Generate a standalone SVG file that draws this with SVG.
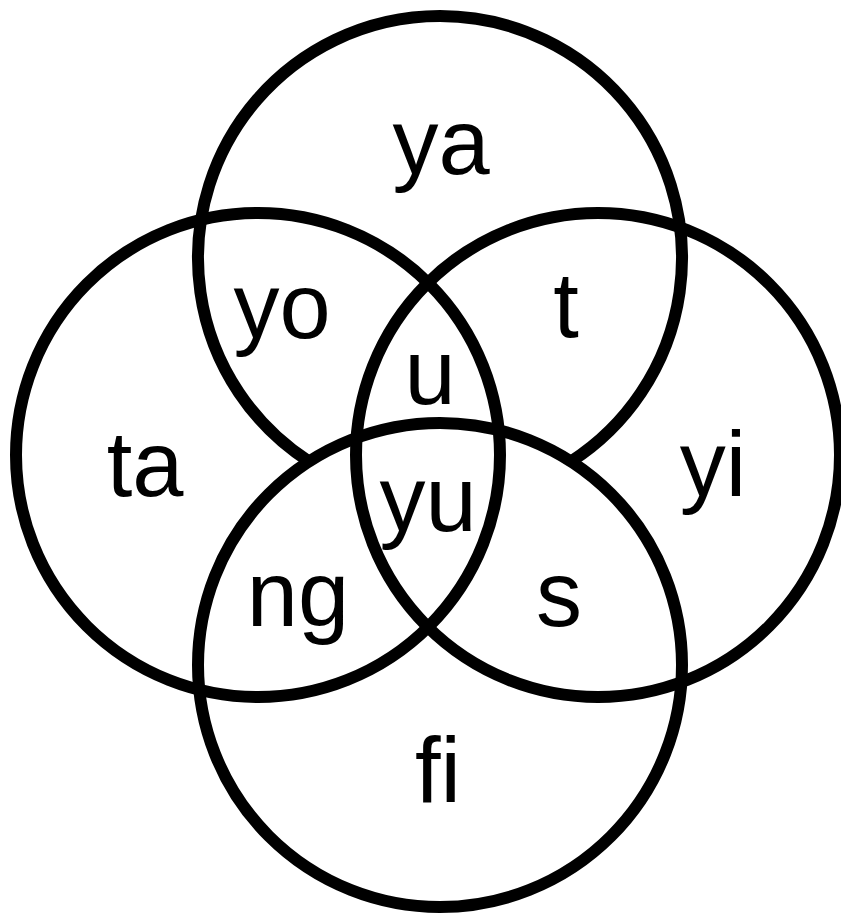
<svg xmlns="http://www.w3.org/2000/svg" width="841" height="918" viewBox="0 0 841 918">
<style>
.c{fill:none;stroke:#000;stroke-width:12}
.t{font-family:"Liberation Sans",Arial,sans-serif;font-size:92px;fill:#000;text-anchor:middle;font-variant-ligatures:none}
</style>
<rect width="841" height="918" fill="#fff"/>
<g id="connectors">
<path id="top" class="c" d="M309,461.5 A242,242 0 1 1 571,461.5"/>
<circle id="left" class="c" cx="258" cy="455" r="242"/>
<circle id="right" class="c" cx="598" cy="455" r="242"/>
<circle id="bottom" class="c" cx="440" cy="665" r="242"/>
</g>
<g id="n-ya"><text class="t" x="441" y="174">ya</text></g>
<g id="n-yo"><text class="t" x="282" y="338">yo</text></g>
<g id="n-t"><text class="t" x="566" y="337">t</text></g>
<g id="n-u"><text class="t" x="430" y="404">u</text></g>
<g id="n-ta"><text class="t" x="145" y="496">ta</text></g>
<g id="n-yu"><text class="t" x="428" y="531">yu</text></g>
<g id="n-yi"><text class="t" x="713" y="496">yi</text></g>
<g id="n-ng"><text class="t" x="298" y="626">ng</text></g>
<g id="n-s"><text class="t" x="559" y="626">s</text></g>
<g id="n-fi"><text class="t" x="438" y="802">fi</text></g>
</svg>
